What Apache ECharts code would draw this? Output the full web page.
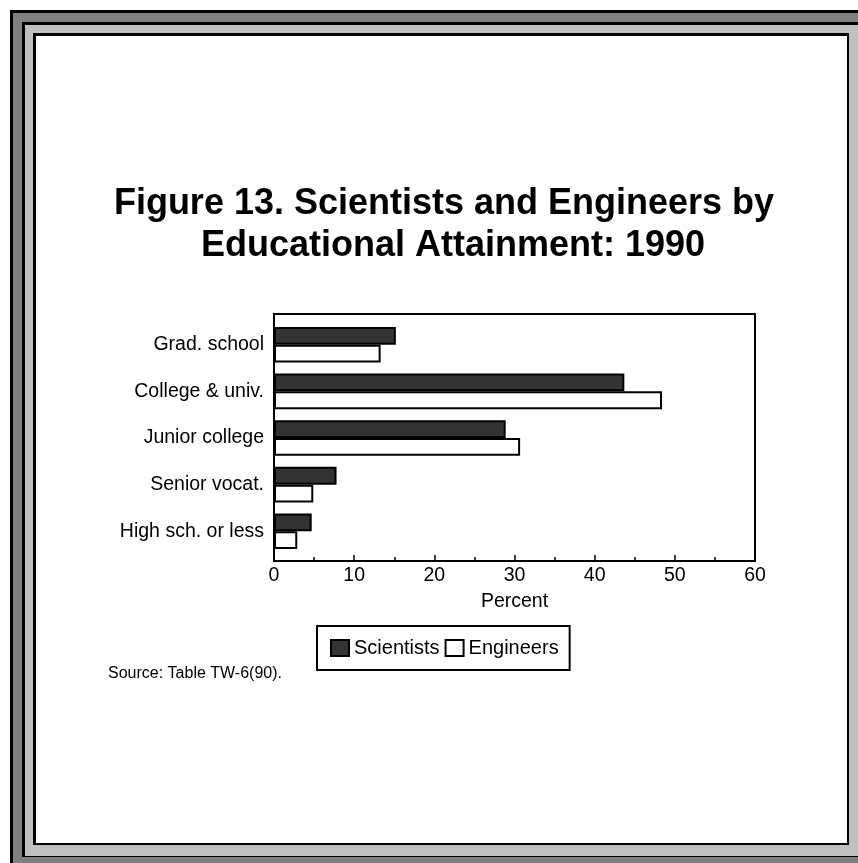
<!DOCTYPE html>
<html>
<head>
<meta charset="utf-8">
<script src="https://cdn.jsdelivr.net/npm/echarts@6/dist/echarts.min.js"></script>
<style>
  html, body { margin: 0; padding: 0; background: #ffffff; }
  #chart { width: 858px; height: 863px; }
</style>
</head>
<body>
<div id="chart"></div>
<script>
// Educational attainment categories, top to bottom
const categories = ['Grad. school', 'College & univ.', 'Junior college', 'Senior vocat.', 'High sch. or less'];
// Percent of each group
const scientists = [15.2, 43.7, 28.9, 7.8, 4.7];
const engineers = [13.3, 48.4, 30.7, 4.9, 2.9];
// Percent axis
const axisMin = 0;
const axisMax = 60;
const axisStep = 10;

const titleLines = ['Figure 13. Scientists and Engineers by', 'Educational Attainment: 1990'];
const sourceNote = 'Source: Table TW-6(90).';

const FONT = '"Liberation Sans", Arial, Helvetica, sans-serif';

const chart = echarts.init(document.getElementById('chart'), null, { renderer: 'canvas' });

// Bevelled picture frame around the page
const frame = [
  { shape: { x: 10, y: 10, width: 900, height: 900 }, fill: '#000000' },
  { shape: { x: 13, y: 13, width: 900, height: 900 }, fill: '#808080' },
  { shape: { x: 22, y: 22, width: 900, height: 835 }, fill: '#000000' },
  { shape: { x: 25, y: 25, width: 900, height: 831 }, fill: '#c0c0c0' },
  { shape: { x: 33, y: 33, width: 816, height: 812 }, fill: '#000000' },
  { shape: { x: 36, y: 36, width: 811, height: 807 }, fill: '#ffffff' }
].map(function (r) {
  return { type: 'rect', silent: true, z: -10, shape: r.shape, style: { fill: r.fill } };
});

chart.setOption({
  animation: false,
  backgroundColor: '#ffffff',
  textStyle: { fontFamily: FONT, color: '#000000' },
  graphic: frame.concat([
    {
      type: 'text', z: 10, x: 444, y: 204,
      style: { text: titleLines[0], fill: '#000', font: 'bold 36px ' + FONT, textAlign: 'center', textVerticalAlign: 'middle' }
    },
    {
      type: 'text', z: 10, x: 453, y: 246,
      style: { text: titleLines[1], fill: '#000', font: 'bold 36px ' + FONT, textAlign: 'center', textVerticalAlign: 'middle' }
    },
    {
      type: 'text', z: 10, x: 108, y: 674,
      style: { text: sourceNote, fill: '#000', font: '16px ' + FONT, textAlign: 'left', textVerticalAlign: 'middle' }
    }
  ]),
  legend: {
    left: 317,
    top: 626,
    orient: 'horizontal',
    padding: [12, 11, 12, 13],
    itemGap: 5,
    itemWidth: 18,
    itemHeight: 16,
    icon: 'rect',
    backgroundColor: '#ffffff',
    borderColor: '#000000',
    borderWidth: 2,
    textStyle: { fontFamily: FONT, fontSize: 20, color: '#000000' },
    data: ['Scientists', 'Engineers']
  },
  grid: [
    // plot frame with the percent axis
    { left: 274, top: 314, width: 481, height: 247, show: true, borderColor: '#000000', borderWidth: 2, backgroundColor: 'transparent' },
    // bar area
    { left: 274, top: 321.4, width: 481, height: 233.2 }
  ],
  xAxis: [
    {
      gridIndex: 0,
      type: 'value',
      min: axisMin,
      max: axisMax,
      interval: axisStep,
      name: 'Percent',
      nameLocation: 'middle',
      nameGap: 31,
      nameTextStyle: { fontFamily: FONT, fontSize: 19.5, color: '#000000' },
      axisLine: { show: true, lineStyle: { color: '#000000', width: 2 } },
      axisTick: { show: true, inside: true, length: 6, lineStyle: { color: '#000000', width: 1.5 } },
      minorTick: { show: true, splitNumber: 2, length: 4, lineStyle: { color: '#000000', width: 1.5 } },
      splitLine: { show: false },
      axisLabel: { fontFamily: FONT, fontSize: 19.5, color: '#000000', margin: 5 }
    },
    {
      gridIndex: 1,
      type: 'value',
      min: axisMin,
      max: axisMax,
      show: false,
      splitLine: { show: false }
    }
  ],
  yAxis: [
    {
      gridIndex: 0,
      type: 'value',
      show: false,
      splitLine: { show: false }
    },
    {
      gridIndex: 1,
      type: 'category',
      inverse: true,
      data: categories,
      axisLine: { show: false },
      axisTick: { show: false },
      axisLabel: { fontFamily: FONT, fontSize: 19.5, color: '#000000', margin: 10 }
    }
  ],
  series: [
    {
      name: 'Scientists',
      type: 'bar',
      xAxisIndex: 1,
      yAxisIndex: 1,
      data: scientists,
      barWidth: 17.8,
      barGap: '0%',
      itemStyle: { color: '#333333', borderColor: '#000000', borderWidth: 2 }
    },
    {
      name: 'Engineers',
      type: 'bar',
      xAxisIndex: 1,
      yAxisIndex: 1,
      data: engineers,
      barWidth: 17.8,
      barGap: '0%',
      itemStyle: { color: '#ffffff', borderColor: '#000000', borderWidth: 2 }
    }
  ]
});
</script>
</body>
</html>
